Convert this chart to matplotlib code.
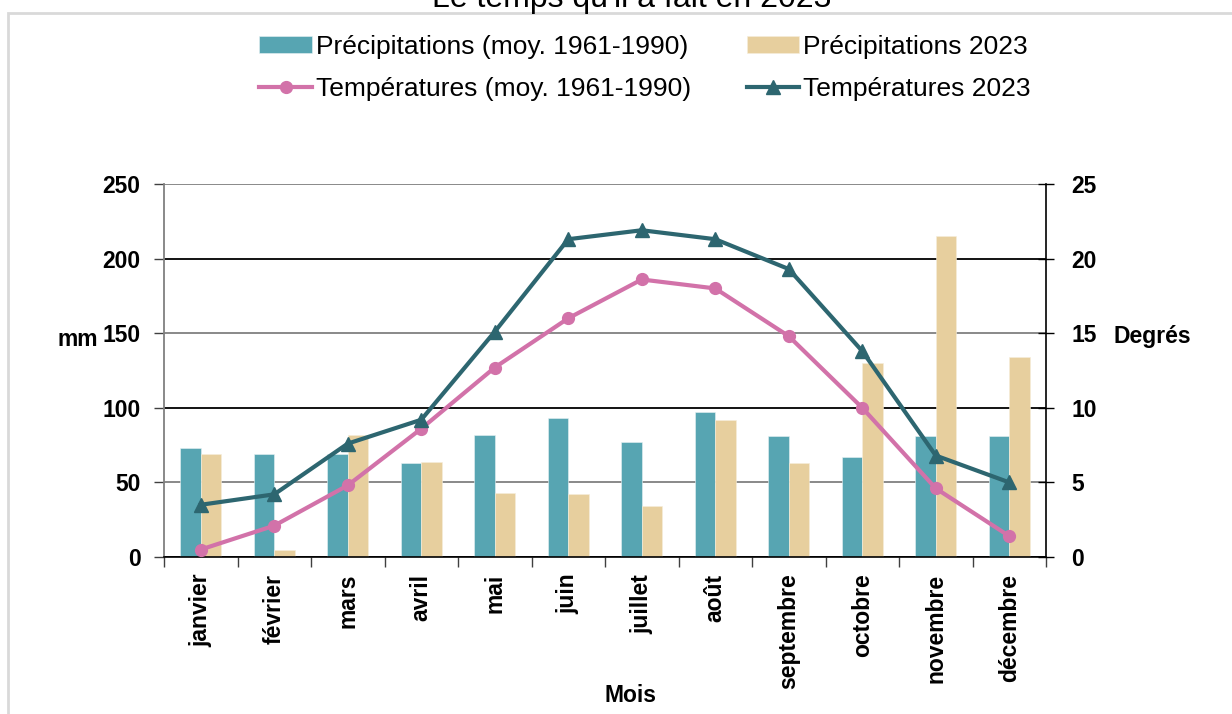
import matplotlib
matplotlib.use("Agg")
import matplotlib.pyplot as plt
import numpy as np
from matplotlib.patches import Rectangle

plt.rcParams['font.family'] = ['Liberation Sans', 'DejaVu Sans']

months = ["janvier", "février", "mars", "avril", "mai", "juin", "juillet",
          "août", "septembre", "octobre", "novembre", "décembre"]
precip_avg = [73, 69, 69, 63, 82, 93, 77, 97, 81, 67, 81, 81]
precip_2023 = [69, 5, 82, 64, 43, 42, 34, 92, 63, 130, 215, 134]
temp_avg = [0.5, 2.1, 4.8, 8.6, 12.7, 16.0, 18.6, 18.0, 14.8, 10.0, 4.6, 1.4]
temp_2023 = [3.5, 4.2, 7.6, 9.2, 15.1, 21.3, 21.9, 21.3, 19.3, 13.8, 6.8, 5.0]
yticks_mm = [0, 50, 100, 150, 200, 250]
yticks_deg = [0, 5, 10, 15, 20, 25]

labels = ["Précipitations (moy. 1961-1990)", "Précipitations 2023",
          "Températures (moy. 1961-1990)", "Températures 2023"]

c_blue = "#57A5B2"
c_tan = "#E7CF9E"
c_pink = "#D272A9"
c_teal = "#2D6670"

W, H = 1232, 714
fig = plt.figure(figsize=(W / 100, H / 100), dpi=100)

# outer frame
fig.patches.append(Rectangle((8 / W, -0.1), 1.2, 1 - 13 / H + 0.1,
                             transform=fig.transFigure, fill=False,
                             edgecolor="#D9D9D9", linewidth=2))

ax = fig.add_axes([164 / W, 1 - 557 / H, (1046 - 164) / W, (557 - 184) / H])
x = np.arange(len(months))
bw = 0.28
b1 = ax.bar(x - bw / 2, precip_avg, width=bw, color=c_blue, edgecolor="#E8F2F4",
            linewidth=0.4, zorder=2)
b2 = ax.bar(x + bw / 2, precip_2023, width=bw, color=c_tan, edgecolor="#F6EEDC",
            linewidth=0.4, zorder=2)
ax.set_xlim(-0.5, len(months) - 0.5)
ax.set_ylim(0, 250)
ax.set_yticks(yticks_mm)
ax.set_yticklabels([str(v) for v in yticks_mm], fontsize=16.5, fontweight="bold")
ax.tick_params(axis="y", direction="out", length=7, width=1, pad=10, color="#404040")
ax.set_xticks(np.arange(-0.5, len(months), 1.0))
ax.set_xticklabels([])
ax.set_xticks(x, minor=True)
ax.set_xticklabels(months, minor=True, rotation=90, fontsize=16.5, fontweight="bold",
                   va="top", ha="center")
ax.tick_params(axis="x", which="major", direction="out", length=7, width=1, color="#404040")
ax.tick_params(axis="x", which="minor", length=0, pad=12)
ax.set_axisbelow(True)
ax.yaxis.grid(True, linewidth=1.3)
for i, gl in enumerate(ax.get_ygridlines()):
    gl.set_color("#000000" if yticks_mm[i] in (0, 100, 200) else "#808080")
for s in ["top", "right"]:
    ax.spines[s].set_visible(False)
ax.spines["left"].set_color("#808080")
ax.spines["left"].set_linewidth(1.3)
ax.spines["bottom"].set_color("#000000")
ax.spines["bottom"].set_linewidth(1.2)

ax2 = ax.twinx()
l1, = ax2.plot(x, temp_avg, color=c_pink, linewidth=3, marker="o", markersize=8.5, zorder=3)
l2, = ax2.plot(x, temp_2023, color=c_teal, linewidth=3, marker="^", markersize=9.5, zorder=4)
ax2.set_ylim(0, 25)
ax2.set_yticks(yticks_deg)
ax2.set_yticklabels([str(v) for v in yticks_deg], fontsize=16.5, fontweight="bold")
ax2.tick_params(axis="y", direction="inout", length=12, width=1, pad=12, color="#000000")
for s in ["top", "left", "bottom"]:
    ax2.spines[s].set_visible(False)
ax2.spines["right"].set_color("#000000")
ax2.spines["right"].set_linewidth(1.2)

fig.text(78 / W, 1 - 340 / H, "mm", fontsize=16.5, fontweight="bold", ha="center", va="center")
fig.text(1152 / W, 1 - 337 / H, "Degrés", fontsize=16.5, fontweight="bold", ha="center", va="center")
fig.text(630 / W, 1 - 695 / H, "Mois", fontsize=16.5, fontweight="bold", ha="center", va="center")
fig.text(632 / W, 1 - 7 / H, "Le temps qu'il a fait en 2023", fontsize=23, ha="center",
         va="baseline")

fig.legend([b1, l1, b2, l2], [labels[0], labels[2], labels[1], labels[3]],
           ncol=2, loc="center", bbox_to_anchor=(645 / W, 1 - 68 / H),
           frameon=False, fontsize=19, handlelength=2.0, handletextpad=0.15,
           columnspacing=2.1, labelspacing=0.67, handleheight=0.6)

fig.savefig("out.png", dpi=100)
